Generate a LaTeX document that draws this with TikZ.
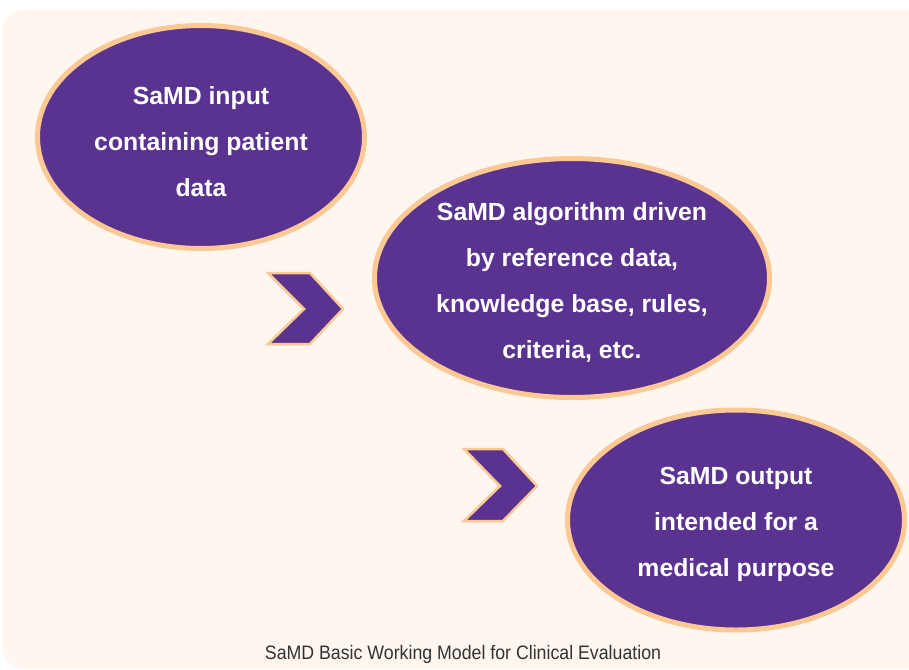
\documentclass[tikz,border=0pt]{standalone}
\usepackage{fontspec}
\setmainfont{Liberation Sans}
\newfontfamily\capfont[FakeStretch=0.91]{Liberation Sans}
\usetikzlibrary{shapes.geometric}
\definecolor{samdpurple}{HTML}{5A3290}
\definecolor{samdpeach}{HTML}{FCC894}
\definecolor{samdcream}{HTML}{FEF6EF}
\definecolor{samdgray}{HTML}{333333}
\tikzset{
  bubble/.style={ellipse, draw=samdpeach, line width=5pt, fill=samdpurple, inner sep=0pt},
  bubbletext/.style={text=white, inner sep=0pt, align=center,
    font=\bfseries\fontsize{24.8}{46}\selectfont},
  chevron/.style={draw=samdpeach, line width=2.5pt, fill=samdpurple, line join=miter}
}
\begin{document}
\begin{tikzpicture}[x=1pt,y=-1pt]
\useasboundingbox (0,0) rectangle (909,669);
\fill[white] (0,0) rectangle (909,669);
\fill[samdcream, rounded corners=22pt] (2,10) rectangle (940,669);
\node[bubble, minimum width=327pt, minimum height=223pt] (input) at (201,137) {};
\node[bubble, minimum width=395pt, minimum height=239pt] (algo) at (572,278) {};
\node[bubble, minimum width=337pt, minimum height=220pt] (output) at (736,520) {};
\node[bubbletext] (inputtext) at ([yshift=-4.5pt]input.center) {SaMD input\\containing patient\\data};
\node[bubbletext] (algotext) at ([yshift=-4pt]algo.center) {SaMD algorithm driven\\by reference data,\\knowledge base, rules,\\criteria, etc.};
\node[bubbletext] (outputtext) at ([yshift=-4.5pt]output.center) {SaMD output\\intended for a\\medical purpose};
\draw[chevron] (268,273) -- (310,273) -- (343,309) -- (310,344) -- (268,344) -- (304,309) -- cycle;
\draw[chevron] (464,449) -- (503,449) -- (537,486) -- (503,521) -- (464,521) -- (500,486) -- cycle;
\node[text=samdgray, font=\capfont\fontsize{19.5}{22}\selectfont, anchor=base] (caption) at (463,659) {SaMD Basic Working Model for Clinical Evaluation};
\end{tikzpicture}
\end{document}
